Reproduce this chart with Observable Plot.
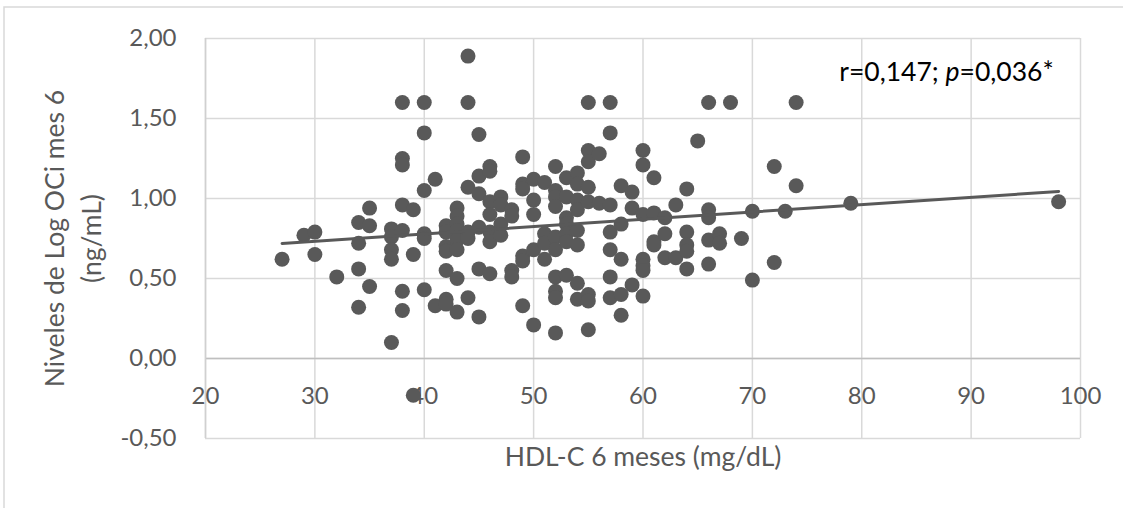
<!DOCTYPE html>
<html>
<head>
<meta charset="utf-8">
<script src="https://cdn.jsdelivr.net/npm/d3@7"></script>
<script src="https://cdn.jsdelivr.net/npm/@observablehq/plot@0.6"></script>
<style>
  html, body { margin: 0; padding: 0; background: #ffffff; }
  #chart { position: relative; width: 1123px; height: 508px; }
  #chart svg { display: block; }
</style>
</head>
<body>
<div id="chart"></div>
<script>
// HDL-C at 6 months (mg/dL)
const hdl = [
  27,
  29,
  30, 30,
  32,
  34, 34, 34, 34,
  35, 35, 35,
  37, 37, 37, 37, 37,
  38, 38, 38, 38, 38, 38, 38,
  39, 39, 39,
  40, 40, 40, 40, 40, 40,
  41, 41,
  42, 42, 42, 42, 42, 42, 42,
  43, 43, 43, 43, 43, 43, 43, 43,
  44, 44, 44, 44, 44, 44,
  45, 45, 45, 45, 45, 45,
  46, 46, 46, 46, 46, 46, 46,
  47, 47, 47, 47,
  48, 48, 48, 48,
  49, 49, 49, 49, 49, 49,
  50, 50, 50, 50, 50,
  51, 51, 51, 51,
  52, 52, 52, 52, 52, 52, 52, 52, 52, 52,
  53, 53, 53, 53, 53, 53, 53,
  54, 54, 54, 54, 54, 54, 54, 54,
  55, 55, 55, 55, 55, 55, 55, 55,
  56, 56,
  57, 57, 57, 57, 57, 57, 57,
  58, 58, 58, 58, 58,
  59, 59, 59,
  60, 60, 60, 60, 60, 60, 60,
  61, 61, 61, 61,
  62, 62, 62,
  63, 63,
  64, 64, 64, 64, 64,
  65,
  66, 66, 66, 66, 66,
  67, 67,
  68,
  69,
  70, 70,
  72, 72,
  73,
  74, 74,
  79,
  98
];
// Log OCi levels at month 6 (ng/mL)
const logOCi = [
  0.62,
  0.77,
  0.79, 0.65,
  0.51,
  0.85, 0.72, 0.56, 0.32,
  0.94, 0.83, 0.45,
  0.81, 0.76, 0.68, 0.62, 0.10,
  1.60, 1.25, 1.21, 0.96, 0.80, 0.42, 0.30,
  0.93, 0.65, -0.23,
  1.60, 1.41, 1.05, 0.78, 0.75, 0.43,
  1.12, 0.33,
  0.83, 0.79, 0.70, 0.67, 0.55, 0.37, 0.34,
  0.94, 0.89, 0.84, 0.80, 0.74, 0.68, 0.50, 0.29,
  1.89, 1.60, 1.07, 0.79, 0.75, 0.38,
  1.40, 1.14, 1.03, 0.82, 0.56, 0.26,
  1.20, 1.17, 0.98, 0.90, 0.79, 0.73, 0.53,
  1.01, 0.96, 0.84, 0.77,
  0.93, 0.89, 0.55, 0.51,
  1.26, 1.09, 1.06, 0.64, 0.61, 0.33,
  1.12, 0.99, 0.90, 0.68, 0.21,
  1.10, 0.78, 0.72, 0.62,
  1.20, 1.05, 1.01, 0.95, 0.76, 0.68, 0.51, 0.42, 0.38, 0.16,
  1.13, 1.01, 0.88, 0.84, 0.78, 0.73, 0.52,
  1.16, 1.09, 0.99, 0.93, 0.80, 0.71, 0.47, 0.37,
  1.60, 1.30, 1.23, 1.07, 0.98, 0.40, 0.36, 0.18,
  1.28, 0.97,
  1.60, 1.41, 0.96, 0.79, 0.68, 0.51, 0.38,
  1.08, 0.84, 0.62, 0.40, 0.27,
  1.04, 0.94, 0.46,
  1.30, 1.21, 0.90, 0.62, 0.58, 0.55, 0.39,
  1.13, 0.91, 0.73, 0.71,
  0.88, 0.78, 0.63,
  0.96, 0.63,
  1.06, 0.79, 0.71, 0.67, 0.56,
  1.36,
  1.60, 0.93, 0.88, 0.74, 0.59,
  0.78, 0.72,
  1.60,
  0.75,
  0.92, 0.49,
  1.20, 0.60,
  0.92,
  1.60, 1.08,
  0.97,
  0.98
];
// Linear trend line (Excel trendline) endpoints
const trendX = [27, 98];
const trendY = [0.719, 1.044];

// Axis ticks
const xTicks = [20, 30, 40, 50, 60, 70, 80, 90, 100];
const yTicks = [-0.5, 0, 0.5, 1.0, 1.5, 2.0];

// Texts
const xTitle = "HDL-C 6 meses (mg/dL)";
const yTitle1 = "Niveles de Log OCi mes 6";
const yTitle2 = "(ng/mL)";
const statR = "0,147";
const statP = "0,036*";
const statPos = {x: 77.95, y: 1.7875};

const points = hdl.map((h, i) => ({hdl: h, oci: logOCi[i]}));
const trend = trendX.map((t, i) => ({hdl: t, oci: trendY[i]}));
const fmtY = d => d.toFixed(2).replace(".", ",");
const annotText = `r=${statR}; p=${statP}`;

const font = "Lato, 'Open Sans', sans-serif";
const grey = "#595959";

const chart = Plot.plot({
  width: 1123,
  height: 508,
  marginLeft: 205,
  marginRight: 43,
  marginTop: 38,
  marginBottom: 70,
  x: {domain: [20, 100], axis: null},
  y: {domain: [-0.5, 2.0]},
  style: {fontFamily: font, fontSize: "24px", color: grey, background: "#ffffff", overflow: "visible"},
  marks: [
    Plot.gridX(xTicks, {stroke: "#d9d9d9", strokeOpacity: 1, strokeWidth: 1.5}),
    Plot.gridY(yTicks, {stroke: "#d9d9d9", strokeOpacity: 1, strokeWidth: 1.5}),
    Plot.ruleY([0], {stroke: "#bfbfbf", strokeWidth: 1.5}),
    Plot.ruleX([20], {stroke: "#d0d0d0", strokeWidth: 1.5}),
    Plot.axisY(yTicks, {tickSize: 0, tickPadding: 29, tickFormat: fmtY, label: null, fontSize: 24, fill: grey}),
    Plot.text(xTicks, {x: d => d, y: d => 0, dy: 38, text: d => String(d), fontSize: 24, fill: grey}),
    Plot.dot(points, {x: "hdl", y: "oci", r: 7.5, fill: grey, stroke: "none"}),
    Plot.line(trend, {x: "hdl", y: "oci", stroke: grey, strokeWidth: 3}),
    Plot.text([annotText], {x: () => statPos.x, y: () => statPos.y, text: d => d, textAnchor: "start", fontSize: 26.5, fill: "#000000"}),
    Plot.text([xTitle], {frameAnchor: "bottom", dy: 27, text: d => d, textAnchor: "middle", fontSize: 26.5, fill: grey}),
    Plot.text([yTitle1], {frameAnchor: "left", dx: -150, rotate: -90, text: d => d, textAnchor: "middle", fontSize: 26.5, fill: grey}),
    Plot.text([yTitle2], {frameAnchor: "left", dx: -113, rotate: -90, text: d => d, textAnchor: "middle", fontSize: 26.5, fill: grey})
  ]
});

// outer chart border (partially cropped, as in the original)
d3.select(chart).insert("rect", ":first-child")
  .attr("x", 4).attr("y", 7).attr("width", 1140).attr("height", 520)
  .attr("fill", "none").attr("stroke", "#d9d9d9").attr("stroke-width", 1.5);

// italic "p" in the annotation
d3.select(chart).selectAll("text").filter(function() { return this.textContent === annotText; })
  .each(function() {
    const t = d3.select(this);
    t.text(null);
    t.append("tspan").text(`r=${statR}; `);
    t.append("tspan").attr("font-style", "italic").text("p");
    t.append("tspan").text(`=${statP}`);
  });

document.getElementById("chart").appendChild(chart);
</script>
</body>
</html>
